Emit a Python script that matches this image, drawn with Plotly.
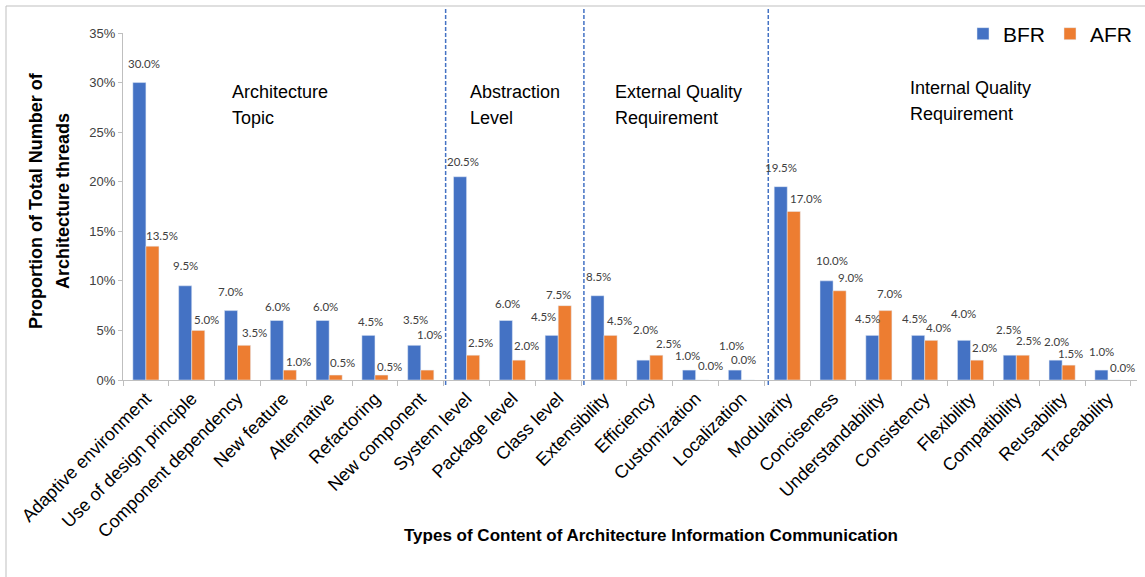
import plotly.graph_objects as go

# categories (x axis) and the four section groups
categories = [
    "Adaptive environment", "Use of design principle", "Component dependency",
    "New feature", "Alternative", "Refactoring", "New component",
    "System level", "Package level", "Class level",
    "Extensibility", "Efficiency", "Customization", "Localization",
    "Modularity", "Conciseness", "Understandability", "Consistency",
    "Flexibility", "Compatibility", "Reusability", "Traceability",
]
sections = [("Architecture", "Topic"), ("Abstraction", "Level"),
            ("External Quality", "Requirement"), ("Internal Quality", "Requirement")]
section_sizes = [7, 3, 4, 8]

# proportions in percent
bfr = [30.0, 9.5, 7.0, 6.0, 6.0, 4.5, 3.5,
       20.5, 6.0, 4.5,
       8.5, 2.0, 1.0, 1.0,
       19.5, 10.0, 4.5, 4.5, 4.0, 2.5, 2.0, 1.0]
afr = [13.5, 5.0, 3.5, 1.0, 0.5, 0.5, 1.0,
       2.5, 2.0, 7.5,
       4.5, 2.5, 0.0, 0.0,
       17.0, 9.0, 7.0, 4.0, 2.0, 2.5, 1.5, 0.0]

y_ticks = [0, 0.05, 0.10, 0.15, 0.20, 0.25, 0.30, 0.35]

# label nudges (px): horizontal offset from bar centre, height of label above bar top
bfr_lbl_dx = [5, 0, 0, 1, 3, 2, 1, 3, 2, -8, 1, 2, -2, -3, 0, 5, -5, -4, 0, -1, 1, 0]
bfr_lbl_dy = [19, 20, 19, 14, 14, 14, 26, 15, 17, 19, 19, 31, 15, 25, 19, 20, 17, 17, 27, 26, 19, 19]
afr_lbl_dx = [10, 8, 10, 9, 7, 8, 2, 7, 8, -6, 9, 12, 8, -5, 12, 11, 4, 7, 7, 6, 2, 8]
afr_lbl_dy = [11, 11, 13, 9, 13, 9, 36, 13, 15, 11, 15, 12, 15, 21, 13, 13, 17, 13, 13, 15, 12, 13]

BLUE = "#4472C4"
ORANGE = "#ED7D31"
GRID = "#bfbfbf"
LBL_FONT = dict(family="Lato", size=11.5, color="#404040")
SEC_FONT = dict(family="Liberation Sans", size=18, color="#000")

# pixel geometry of plot area (for placing paper-ref shapes)
L, R, T, B = 123, 8, 33, 197
W_FIG, H_FIG = 1145, 577
pw = W_FIG - L - R
ph = H_FIG - T - B


def px_x(px):
    return (px - L) / pw


def px_y(py):
    return (H_FIG - B - py) / ph


fig = go.Figure()
fig.add_trace(go.Bar(name="BFR", x=categories, y=[v / 100 for v in bfr],
                     marker_color=BLUE))
fig.add_trace(go.Bar(name="AFR", x=categories, y=[v / 100 for v in afr],
                     marker_color=ORANGE))

annotations = []
# value labels above bars
bar_w = pw / len(categories) * 0.57 / 2
for cat, v, dx, dy in zip(categories, bfr, bfr_lbl_dx, bfr_lbl_dy):
    annotations.append(dict(x=cat, y=v / 100, text=f"{v:.1f}%", showarrow=False,
                            xshift=-bar_w / 2 + dx, yshift=dy, font=LBL_FONT))
for cat, v, dx, dy in zip(categories, afr, afr_lbl_dx, afr_lbl_dy):
    annotations.append(dict(x=cat, y=v / 100, text=f"{v:.1f}%", showarrow=False,
                            xshift=bar_w / 2 + dx, yshift=dy, font=LBL_FONT))

# section titles, one annotation per line (Excel-like line spacing)
sec_pos = [(230, 92), (468, 92), (613, 92), (908, 88)]
for (l1, l2), (sx, sy) in zip(sections, sec_pos):
    for k, line in enumerate((l1, l2)):
        annotations.append(dict(x=px_x(sx), y=px_y(sy + 26 * k), xref="paper", yref="paper",
                                text=line, showarrow=False, xanchor="left", yanchor="middle",
                                font=SEC_FONT))

# axis titles
for line, lx in (("Proportion of Total Number of", 36), ("Architecture threads", 63)):
    annotations.append(dict(x=px_x(lx), y=px_y(201), xref="paper", yref="paper",
                            text=f"<b>{line}</b>", textangle=-90, showarrow=False,
                            xanchor="center", yanchor="middle",
                            font=dict(family="Liberation Sans", size=18, color="#000")))
annotations.append(dict(x=px_x(651), y=px_y(535), xref="paper", yref="paper",
                        text="<b>Types of Content of Architecture Information Communication</b>",
                        showarrow=False, xanchor="center", yanchor="middle",
                        font=dict(family="Liberation Sans", size=17, color="#000")))

shapes = []
# dashed separators between sections
n = len(categories)
acc = 0
for s in section_sizes[:-1]:
    acc += s
    shapes.append(dict(type="line", xref="paper", yref="paper",
                       x0=acc / n, x1=acc / n, y0=px_y(385), y1=px_y(7),
                       line=dict(color=BLUE, width=1.5, dash="4px,2px")))
# outer chart border (top and left)
shapes.append(dict(type="line", xref="paper", yref="paper",
                   x0=px_x(6), x1=px_x(1150), y0=px_y(6), y1=px_y(6),
                   line=dict(color=GRID, width=1)))
shapes.append(dict(type="line", xref="paper", yref="paper",
                   x0=px_x(6), x1=px_x(6), y0=px_y(6), y1=px_y(600),
                   line=dict(color=GRID, width=1)))

fig.update_layout(
    width=W_FIG, height=H_FIG,
    margin=dict(l=L, r=R, t=T, b=B),
    barmode="group", bargap=0.43, bargroupgap=0,
    plot_bgcolor="white", paper_bgcolor="white",
    annotations=annotations, shapes=shapes,
    legend=dict(orientation="h", x=1.0, xanchor="right", y=px_y(34), yanchor="middle",
                font=dict(family="Liberation Sans", size=21, color="#000"),
                bgcolor="rgba(0,0,0,0)", itemwidth=30),
    xaxis=dict(tickangle=-45, automargin=False, showline=True, linecolor=GRID,
               ticks="outside", tickson="boundaries", ticklen=5, tickcolor=GRID,
               tickfont=dict(family="Liberation Sans", size=18, color="#000"),
               showgrid=False),
    yaxis=dict(range=[0, 0.35], tickvals=y_ticks, tickformat=".0%",
               automargin=False, showline=True, linecolor=GRID, showgrid=False,
               ticks="outside", ticklen=4, tickcolor=GRID, zeroline=False,
               tickfont=dict(family="Liberation Sans", size=13, color="#404040")),
)

# drop the default body margin so the figure sits at the window's top-left corner
fig.write_html("out.html", config={"displayModeBar": False},
               post_script="document.body.style.margin='0';")
